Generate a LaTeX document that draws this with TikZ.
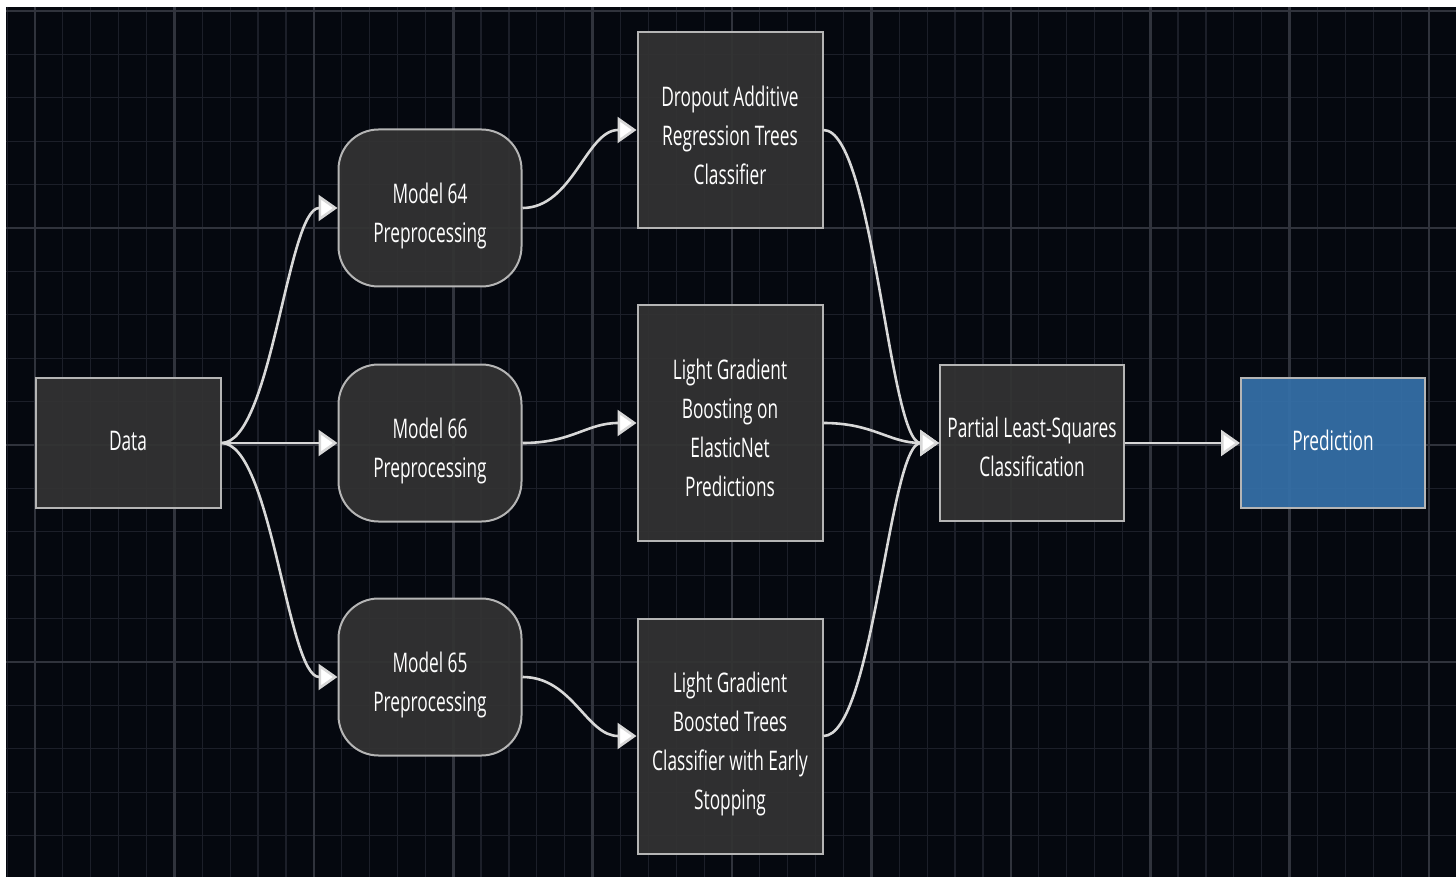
\documentclass[tikz,border=0pt]{standalone}
\usepackage{fontspec}
\setmainfont{Open Sans}[FakeStretch=0.64]
\usetikzlibrary{arrows.meta}
\definecolor{bg}{HTML}{05080F}
\definecolor{gminor}{HTML}{1C1F29}
\definecolor{gmajor}{HTML}{30333C}
\definecolor{boxfill}{HTML}{333333}
\definecolor{boxline}{HTML}{B5B5B5}
\definecolor{predfill}{HTML}{3570A8}
\definecolor{edgecol}{HTML}{D8D8D8}
\newcommand\lowtxt[2]{\raisebox{-#1pt}[\height][\depth]{\begin{tabular}{@{}c@{}}#2\end{tabular}}}
\begin{document}
\begin{tikzpicture}[x=1pt,y=-1pt,
  box/.style={draw=boxline, line width=2pt, fill=boxfill, fill opacity=0.93, text opacity=1,
    text=white, align=center, font=\fontsize{27}{39}\selectfont, inner sep=0pt},
  rbox/.style={box, rounded corners=40pt, minimum width=183pt, minimum height=157pt},
  conn/.style={draw=edgecol, line width=2.6pt, -{Triangle[length=19pt,width=26pt,fill=white]}},
  minorline/.style={gminor, line width=1.2pt},
  majorline/.style={gmajor, line width=2.6pt}]
\useasboundingbox (0,0) rectangle (1456,877);
\fill[white] (0,0) rectangle (1456,877);
\fill[bg] (6,7) rectangle (1456,877);
\begin{scope}
\clip (6,7) rectangle (1456,877);
\foreach \i in {-1,...,51} \draw[minorline] ({35+27.88*\i},7) -- ++(0,870);
\foreach \j in {0,...,20} \draw[minorline] (6,{11+43.4*\j}) -- ++(1450,0);
\foreach \i in {0,...,10} \draw[majorline] ({35+139.4*\i},7) -- ++(0,870);
\foreach \j in {0,...,3} \draw[majorline] (6,{11+217*\j}) -- ++(1450,0);
\end{scope}

\node[box, minimum width=185pt, minimum height=130pt] (data) at (128,443) {\lowtxt{-0.5}{Data}};
\node[rbox] (m64) at (430,208) {\lowtxt{7}{Model 64\\Preprocessing}};
\node[rbox] (m66) at (430,443) {\lowtxt{7}{Model 66\\Preprocessing}};
\node[rbox] (m65) at (430,677) {\lowtxt{7}{Model 65\\Preprocessing}};
\node[box, minimum width=185pt, minimum height=196pt] (dart) at (730,130) {\lowtxt{8}{Dropout Additive\\Regression Trees\\Classifier}};
\node[box, minimum width=185pt, minimum height=236pt] (lgb) at (730,423) {\lowtxt{7}{Light Gradient\\Boosting on\\ElasticNet\\Predictions}};
\node[box, minimum width=185pt, minimum height=235pt] (lgbt) at (730,736) {\lowtxt{7}{Light Gradient\\Boosted Trees\\Classifier with Early\\Stopping}};
\node[box, minimum width=184pt, minimum height=156pt] (pls) at (1032,443) {\lowtxt{6}{Partial Least-Squares\\Classification}};
\node[box, fill=predfill, minimum width=184pt, minimum height=130pt] (pred) at (1333,443) {\lowtxt{-0.5}{Prediction}};

\draw[conn] (data.east) .. controls +(50,0) and +(-50,0) .. (m64.west);
\draw[conn] (data.east) -- (m66.west);
\draw[conn] (data.east) .. controls +(50,0) and +(-50,0) .. (m65.west);
\draw[conn] (m64.east) .. controls +(50,0) and +(-50,0) .. (dart.west);
\draw[conn] (m66.east) .. controls +(50,0) and +(-50,0) .. (lgb.west);
\draw[conn] (m65.east) .. controls +(50,0) and +(-50,0) .. (lgbt.west);
\draw[conn] (dart.east) .. controls +(50,0) and +(-50,0) .. (pls.west);
\draw[conn] (lgb.east) .. controls +(50,0) and +(-50,0) .. (pls.west);
\draw[conn] (lgbt.east) .. controls +(50,0) and +(-50,0) .. (pls.west);
\draw[conn] (pls.east) -- (pred.west);
\end{tikzpicture}
\end{document}
